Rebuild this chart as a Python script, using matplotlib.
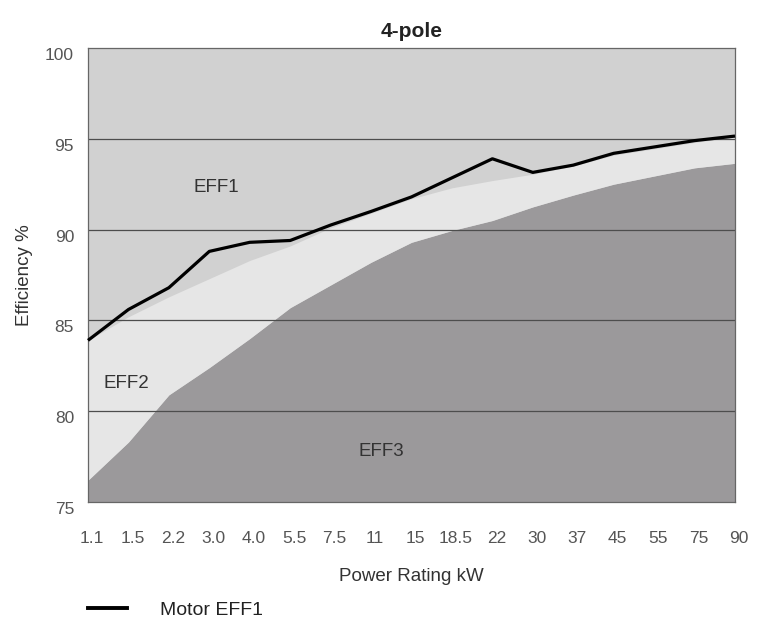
import matplotlib
matplotlib.use("Agg")
import matplotlib.pyplot as plt
import matplotlib.transforms as mtransforms
from matplotlib.lines import Line2D

plt.rcParams['font.family'] = ['Liberation Sans', 'DejaVu Sans']

# ---- data ----
ratings = ["1.1", "1.5", "2.2", "3.0", "4.0", "5.5", "7.5", "11", "15", "18.5",
           "22", "30", "37", "45", "55", "75", "90"]
motor_eff1 = [83.9, 85.6, 86.8, 88.8, 89.3, 89.4, 90.25, 91.0, 91.8, 92.85,
              93.9, 93.15, 93.55, 94.2, 94.55, 94.9, 95.15]
eff2_upper = [83.9, 85.2, 86.3, 87.3, 88.3, 89.1, 90.1, 90.9, 91.7, 92.3,
              92.7, 93.05, 93.5, 94.1, 94.45, 94.8, 95.1]
eff3_upper = [76.2, 78.3, 80.9, 82.4, 84.0, 85.7, 86.95, 88.2, 89.3, 89.95,
              90.5, 91.25, 91.9, 92.5, 92.95, 93.4, 93.65]
y_ticks = [75, 80, 85, 90, 95, 100]
grid_levels = [80, 85, 90, 95]

# ---- style ----
c_eff1 = "#d1d1d1"
c_eff2 = "#e6e6e6"
c_eff3 = "#9b999b"

fig = plt.figure(figsize=(7.66, 6.19), dpi=100)
ax = fig.add_axes([88 / 766, 1 - 502 / 619, (735 - 88) / 766, (502 - 48) / 619])
ax.set_facecolor(c_eff1)

x = list(range(len(ratings)))
ax.fill_between(x, 75, eff3_upper, color=c_eff3, lw=0, zorder=1)
ax.fill_between(x, eff3_upper, eff2_upper, color=c_eff2, lw=0, zorder=1)
for g in grid_levels:
    ax.axhline(g, color="#4d4d4d", lw=0.9, zorder=2)
ax.plot(x, motor_eff1, color="black", lw=2.3, zorder=3, clip_on=False,
        solid_capstyle="butt", solid_joinstyle="round")

ax.set_xlim(0, len(ratings) - 1)
ax.set_ylim(75, 100)
ax.set_xticks(x)
ax.set_xticklabels(ratings)
ax.set_yticks(y_ticks)
ax.tick_params(axis="both", length=0, labelsize=12.5, labelcolor="#555555")
ax.tick_params(axis="x", pad=21)
ax.tick_params(axis="y", pad=10)

# shift tick labels slightly like the reference
offx = mtransforms.ScaledTranslation(4 / 100, 0, fig.dpi_scale_trans)
for lab in ax.get_xticklabels():
    lab.set_transform(lab.get_transform() + offx)
offy = mtransforms.ScaledTranslation(0, -6 / 100, fig.dpi_scale_trans)
for lab in ax.get_yticklabels():
    lab.set_transform(lab.get_transform() + offy)

for s in ax.spines.values():
    s.set_color("#666666")
    s.set_linewidth(0.9)

ax.set_title("4-pole", fontsize=15, fontweight="bold", color="#222222", pad=8)
ax.set_xlabel("Power Rating kW", fontsize=13.5, color="#333333", labelpad=16)
ax.set_ylabel("Efficiency %", fontsize=13.5, color="#333333", labelpad=9)

ax.text(3.17, 92.3, "EFF1", fontsize=13.5, color="#333333", ha="center", va="center", zorder=4)
ax.text(0.94, 81.55, "EFF2", fontsize=13.5, color="#333333", ha="center", va="center", zorder=4)
ax.text(7.25, 77.8, "EFF3", fontsize=13.5, color="#333333", ha="center", va="center", zorder=4)

handle = Line2D([], [], color="black", lw=2.8)
fig.legend(handles=[handle], labels=["Motor EFF1"], loc="center left",
           bbox_to_anchor=(88 / 766, 1 - 610 / 619), frameon=False,
           fontsize=14, handlelength=2.0, handletextpad=1.7, borderpad=0,
           borderaxespad=0, labelcolor="#222222")

fig.savefig("out.png", dpi=100)
